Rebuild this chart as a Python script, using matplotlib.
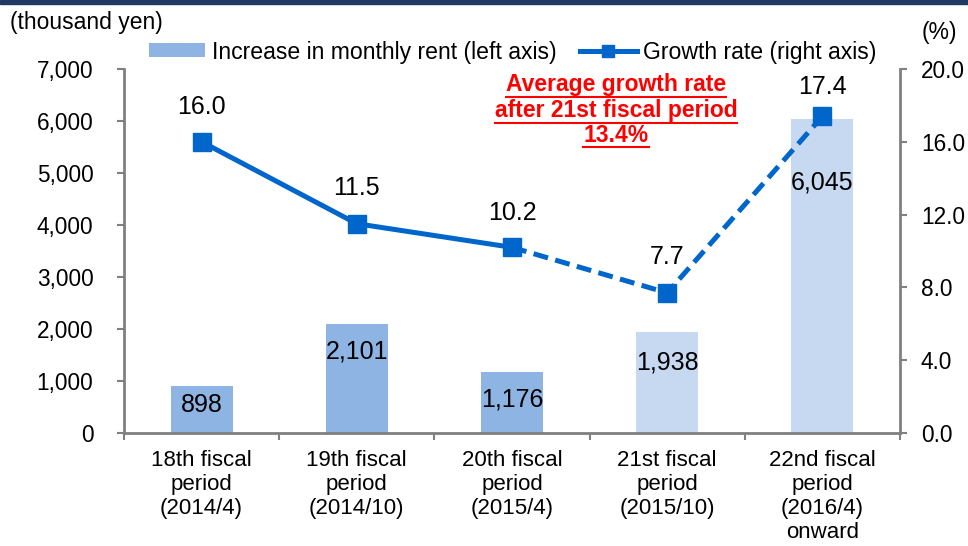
import matplotlib
matplotlib.use("Agg")
import matplotlib.pyplot as plt
from matplotlib.patches import Patch
from matplotlib.lines import Line2D

plt.rcParams["font.family"] = ["Liberation Sans", "DejaVu Sans"]

# data
periods = [
    "18th fiscal\nperiod\n(2014/4)",
    "19th fiscal\nperiod\n(2014/10)",
    "20th fiscal\nperiod\n(2015/4)",
    "21st fiscal\nperiod\n(2015/10)",
    "22nd fiscal\nperiod\n(2016/4)\nonward",
]
rent_increase = [898, 2101, 1176, 1938, 6045]
growth_rate = [16.0, 11.5, 10.2, 7.7, 17.4]
is_forecast = [False, False, False, True, True]

left_ticks = [0, 1000, 2000, 3000, 4000, 5000, 6000, 7000]
right_ticks = [0.0, 4.0, 8.0, 12.0, 16.0, 20.0]

# label offsets (pixels) as placed in the original
bar_label_drop = [19, 28, 28, 30, 64]
line_label_lift = [35, 36, 34, 36, 29]

BAR_DARK = "#8DB4E2"
BAR_LIGHT = "#C6D9F1"
LINE_BLUE = "#0066CC"
GREY = "#808080"

fig = plt.figure(figsize=(9.68, 5.46), dpi=100)
ax = fig.add_axes([124 / 968, 113 / 546, 776 / 968, 364 / 546])
ax2 = ax.twinx()

x = list(range(len(periods)))
colors = [BAR_LIGHT if f else BAR_DARK for f in is_forecast]
ax.bar(x, rent_increase, width=0.4, color=colors, zorder=2)

for i, v in enumerate(rent_increase):
    ax.annotate(f"{v:,}", (i, v), xytext=(0, -bar_label_drop[i]),
                textcoords="offset pixels", ha="center", va="center",
                fontsize=18, color="black")

ax.set_xlim(-0.5, len(periods) - 0.5)
ax.set_ylim(0, 7000)
ax.set_yticks(left_ticks)
ax.set_yticklabels([f"{t:,}" for t in left_ticks])
ax.set_xticks(x)
ax.set_xticklabels(periods)
ax.set_xticks([i - 0.5 for i in range(len(periods) + 1)], minor=True)
ax.tick_params(axis="x", which="major", length=0, pad=12, labelsize=16)
ax.tick_params(axis="x", which="minor", length=5, width=1.5, color=GREY, direction="out")
ax.tick_params(axis="y", length=5, width=1.5, color=GREY, pad=17, labelsize=16.3)

# growth rate line: solid for actuals, dashed after 20th period
ax2.plot(x[:3], growth_rate[:3], color=LINE_BLUE, lw=3.6, solid_capstyle="butt")
ax2.plot(x[2:], growth_rate[2:], color=LINE_BLUE, lw=3.6, linestyle=(0, (3, 1.5)))
ax2.plot(x, growth_rate, linestyle="none", marker="s", markersize=13,
         color=LINE_BLUE)
for i, v in enumerate(growth_rate):
    ax2.annotate(f"{v:.1f}", (i, v), xytext=(0, line_label_lift[i]),
                 textcoords="offset pixels", ha="center", va="center",
                 fontsize=18, color="black")
ax2.set_ylim(0, 20)
ax2.set_yticks(right_ticks)
ax2.set_yticklabels([f"{t:.1f}" for t in right_ticks])
ax2.tick_params(axis="y", length=5, width=1.5, color=GREY, pad=10, labelsize=16.3)

for a in (ax, ax2):
    a.spines["top"].set_visible(False)
    for s in ("left", "right", "bottom"):
        a.spines[s].set_color(GREY)
        a.spines[s].set_linewidth(2)
ax.spines["right"].set_visible(False)
ax2.spines["left"].set_visible(False)
ax2.spines["bottom"].set_visible(False)

# axis unit labels
fig.text(10 / 968, 1 - 22 / 546, "(thousand yen)", ha="left", va="center", fontsize=16.5)
fig.text(939 / 968, 1 - 33 / 546, "(%)", ha="center", va="center", fontsize=16.5)

# legend
handles = [
    Patch(facecolor=BAR_DARK, edgecolor="none"),
    Line2D([0], [0], color=LINE_BLUE, lw=3.6, marker="s", markersize=8),
]
labels = ["Increase in monthly rent (left axis)", "Growth rate (right axis)"]
fig.legend(handles, labels, loc="center left", bbox_to_anchor=(149 / 968, 1 - 52 / 546),
           ncol=2, frameon=False, fontsize=16.6, borderpad=0, borderaxespad=0,
           handlelength=2.45, handleheight=0.55, handletextpad=0.3, columnspacing=1.0)

# top banner strip
fig.patches.append(plt.Rectangle((0, 1 - 4 / 546), 1, 4 / 546, transform=fig.transFigure,
                                 color="#1F3864", zorder=0))

# red annotation, underlined
note_lines = ["Average growth rate", "after 21st fiscal period", "13.4%"]
note_baselines = [91, 117, 142]
texts = []
for s, b in zip(note_lines, note_baselines):
    texts.append(fig.text(616 / 968, 1 - b / 546, s, ha="center", va="baseline",
                          fontsize=16.5, fontweight="bold", color="#FF0000"))
fig.canvas.draw()
renderer = fig.canvas.get_renderer()
for t, b in zip(texts, note_baselines):
    bb = t.get_window_extent(renderer)
    y = 1 - (b + 5.5) / 546
    fig.add_artist(Line2D([bb.x0 / 968, bb.x1 / 968], [y, y], transform=fig.transFigure,
                          color="#FF0000", lw=1.5))

fig.savefig("out.png", dpi=100)
